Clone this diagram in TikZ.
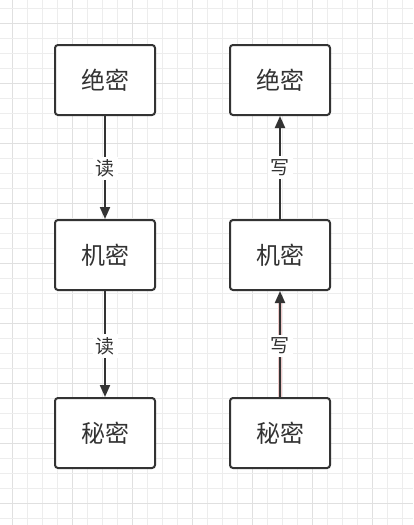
\documentclass[tikz,border=0pt]{standalone}
\usepackage{fontspec}
\newfontfamily\cjk{Noto Sans CJK SC}
\usetikzlibrary{arrows.meta}
\definecolor{ink}{HTML}{333333}
\definecolor{gridminor}{HTML}{EDEDED}
\definecolor{gridmajor}{HTML}{E0E0E0}
\definecolor{halo}{HTML}{EFCACA}
\tikzset{
  box/.style={draw=ink, line width=2pt, rounded corners=3pt, fill=white,
    minimum width=100pt, minimum height=70pt, inner sep=0pt,
    font=\cjk\fontsize{24pt}{24pt}\selectfont, text=ink},
  lbl/.style={fill=white, inner sep=3pt, text=ink,
    font=\cjk\fontsize{19pt}{19pt}\selectfont},
  conn/.style={draw=ink, line width=2pt, -{Triangle[length=12pt,width=10pt]}}
}
\begin{document}
\begin{tikzpicture}[x=1pt,y=-1pt]
\useasboundingbox (0,0) rectangle (413,525);
\fill[white] (0,0) rectangle (413,525);
% grid
\foreach \i in {0,...,26} {
  \pgfmathsetmacro{\xx}{12.7+15*\i}
  \pgfmathtruncatemacro{\m}{mod(\i,4)}
  \ifnum\m=0
    \draw[gridmajor, line width=1pt] (\xx,0) -- (\xx,525);
  \else
    \draw[gridminor, line width=1pt] (\xx,0) -- (\xx,525);
  \fi
}
\foreach \j in {0,...,34} {
  \pgfmathsetmacro{\yy}{8.3+15*\j}
  \pgfmathtruncatemacro{\m}{mod(\j,4)}
  \ifnum\m=1
    \draw[gridmajor, line width=1pt] (0,\yy) -- (413,\yy);
  \else
    \draw[gridminor, line width=1pt] (0,\yy) -- (413,\yy);
  \fi
}
% boxes
\node[box] (l1) at (105,80) {绝密};
\node[box] (l2) at (105,255) {机密};
\node[box] (l3) at (105,433) {秘密};
\node[box] (r1) at (280,80) {绝密};
\node[box] (r2) at (280,255) {机密};
\node[box] (r3) at (280,433) {秘密};
% connectors
\draw[conn] (l1.south) -- node[lbl, pos=0.51] {读} (l2.north);
\draw[conn] (l2.south) -- node[lbl, pos=0.52] {读} (l3.north);
\draw[conn] (r2.north) -- node[lbl, pos=0.5] {写} (r1.south);
\draw[halo, line width=3.2pt] (r3.north) -- ([yshift=-12pt]r2.south);
\draw[conn] (r3.north) -- node[lbl, pos=0.48] {写} (r2.south);
\end{tikzpicture}
\end{document}
